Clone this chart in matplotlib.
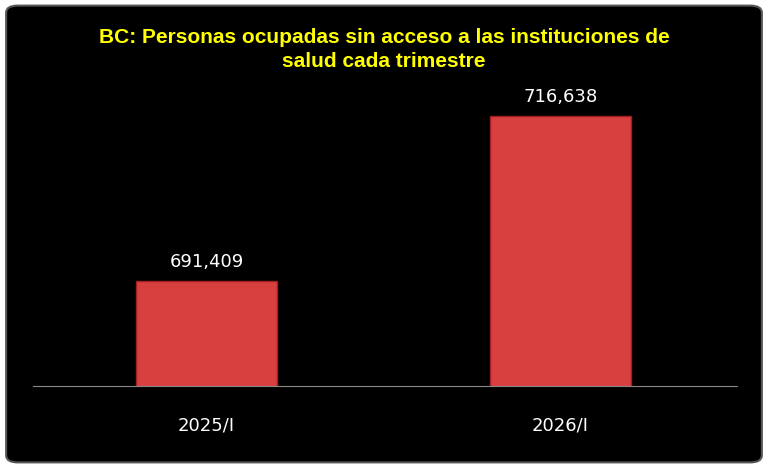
import matplotlib
matplotlib.use("Agg")
import matplotlib.pyplot as plt
from matplotlib.patches import FancyBboxPatch
import numpy as np

categories = ["2025/I", "2026/I"]
values = [691409, 716638]
labels = ["691,409", "716,638"]

fig = plt.figure(figsize=(7.68, 4.68), dpi=100)
fig.patch.set_facecolor("white")
bg = FancyBboxPatch((0.008, 0.012), 0.984, 0.976, boxstyle="round,pad=0,rounding_size=0.015",
                    transform=fig.transFigure, facecolor="black", edgecolor="#555555", lw=1.5,
                    zorder=-10)
fig.patches.append(bg)

ax = fig.add_axes([0.043, 0.175, 0.917, 0.654])
ax.set_facecolor("none")
ax.set_zorder(5)
x = np.arange(len(categories))
bars = ax.bar(x, values, width=0.4, color="#d84040", edgecolor="#a02020", linewidth=1)
ax.set_ylim(675354, 722140)
ax.set_xlim(-0.49, 1.5)
for b, lab in zip(bars, labels):
    ax.text(b.get_x() + b.get_width() / 2, b.get_height() + 1500, lab, ha="center", va="bottom",
            color="white", fontsize=13)
ax.set_xticks(x)
ax.set_xticklabels(categories, color="white", fontsize=13)
ax.tick_params(axis="x", length=0, pad=22)
ax.set_yticks([])
for s in ["top", "right", "left"]:
    ax.spines[s].set_visible(False)
ax.spines["bottom"].set_color("#888888")

fig.text(0.5, 0.895, "BC: Personas ocupadas sin acceso a las instituciones de\nsalud cada trimestre",
         ha="center", va="center", color="#ffff00", fontsize=15, fontweight="bold",
         family="Liberation Sans", linespacing=1.35)

fig.savefig("out.png", dpi=100, facecolor="white")
